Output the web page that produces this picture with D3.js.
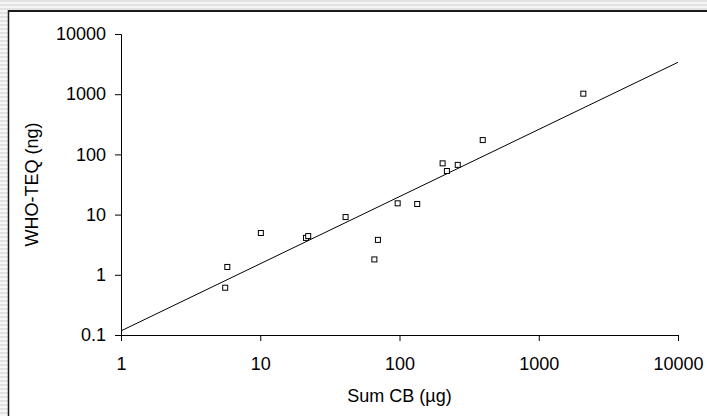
<!DOCTYPE html>
<html>
<head>
<meta charset="utf-8">
<script src="https://cdn.jsdelivr.net/npm/d3@7"></script>
<style>
  body { margin: 0; background: #fff; }
  svg text { font-family: "Liberation Sans", Arial, sans-serif; fill: #000; }
</style>
</head>
<body>
<div id="chart"></div>
<script>
// Sum CB (ug) against WHO-TEQ (ng)
var sumCB = [5.6, 5.8, 10.1, 21.3, 22.1, 41, 66, 70, 97, 134, 204, 219, 262, 396, 2090];
var teq = [0.61, 1.35, 4.95, 4.1, 4.4, 9.1, 1.8, 3.8, 15.4, 15.0, 71, 53, 67, 173, 1020];

// regression line end points
var fitX = [1, 10000];
var fitY = [0.117, 3390];

var xTicks = [1, 10, 100, 1000, 10000];
var yTicks = [0.1, 1, 10, 100, 1000, 10000];

var width = 707;
var height = 416;

var svg = d3.select("#chart")
    .append("svg")
    .attr("width", width)
    .attr("height", height);

// striped page background outside the frame
var defs = svg.append("defs");
var pat = defs.append("pattern")
    .attr("id", "stripes")
    .attr("width", 4)
    .attr("height", 4)
    .attr("patternUnits", "userSpaceOnUse");
pat.append("rect").attr("width", 4).attr("height", 4).attr("fill", "#f6f6f6");
pat.append("rect").attr("width", 4).attr("height", 2).attr("fill", "#e2e2e2");

svg.append("rect").attr("width", width).attr("height", height).attr("fill", "url(#stripes)");
svg.append("rect").attr("x", 8).attr("y", 10).attr("width", width).attr("height", height).attr("fill", "#fff");

// frame
svg.append("line").attr("x1", 8).attr("x2", width).attr("y1", 11).attr("y2", 11)
    .attr("stroke", "#1a1a1a").attr("stroke-width", 2);
svg.append("line").attr("x1", 8.5).attr("x2", 8.5).attr("y1", 10).attr("y2", height)
    .attr("stroke", "#1a1a1a").attr("stroke-width", 1.5);

// scales
var x = d3.scaleLog().domain([1, 10000]).range([121, 678]);
var y = d3.scaleLog().domain([0.1, 10000]).range([335, 34]);

var xAxis = svg.append("g")
    .attr("transform", "translate(0,335)")
    .call(d3.axisBottom(x).tickValues(xTicks).tickFormat(d => String(d)).tickSize(6).tickPadding(16));

var yAxis = svg.append("g")
    .attr("transform", "translate(121,0)")
    .call(d3.axisLeft(y).tickValues(yTicks).tickFormat(d => String(d)).tickSize(6).tickPadding(9));

[xAxis, yAxis].forEach(function(g) {
    g.select(".domain").attr("stroke", "#000");
    g.selectAll(".tick line").attr("stroke", "#000");
    g.selectAll(".tick text").attr("font-size", 18).attr("fill", "#000")
        .style("font-family", "'Liberation Sans', Arial, sans-serif");
});

// axis titles
svg.append("text")
    .attr("x", 399.5)
    .attr("y", 402)
    .attr("text-anchor", "middle")
    .attr("font-size", 18)
    .text("Sum CB (µg)");

svg.append("text")
    .attr("transform", "translate(38,184.5) rotate(-90)")
    .attr("text-anchor", "middle")
    .attr("font-size", 18)
    .text("WHO-TEQ (ng)");

// fitted line
svg.append("line")
    .attr("x1", x(fitX[0])).attr("y1", y(fitY[0]))
    .attr("x2", x(fitX[1])).attr("y2", y(fitY[1]))
    .attr("stroke", "#000")
    .attr("stroke-width", 1);

// points
svg.selectAll("rect.pt")
    .data(sumCB)
    .enter()
    .append("rect")
    .attr("class", "pt")
    .attr("x", d => x(d) - 2.5)
    .attr("y", (d, i) => y(teq[i]) - 2.5)
    .attr("width", 5)
    .attr("height", 5)
    .attr("fill", "#fff")
    .attr("stroke", "#000")
    .attr("stroke-width", 1);
</script>
</body>
</html>
